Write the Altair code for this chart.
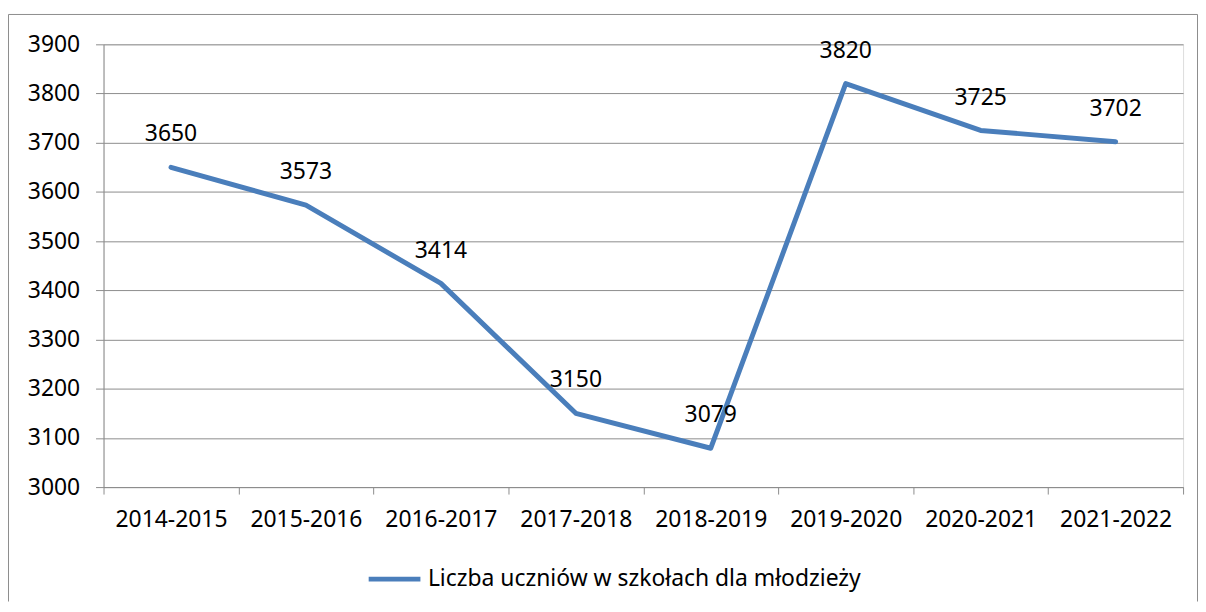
import altair as alt
import pandas as pd

years = ["2014-2015", "2015-2016", "2016-2017", "2017-2018",
         "2018-2019", "2019-2020", "2020-2021", "2021-2022"]
students = [3650, 3573, 3414, 3150, 3079, 3820, 3725, 3702]
series_name = "Liczba uczniów w szkołach dla młodzieży"
y_ticks = [3000, 3100, 3200, 3300, 3400, 3500, 3600, 3700, 3800, 3900]

df = pd.DataFrame({"rok": years, "liczba": students,
                   "seria": [series_name] * len(years)})

W, H = 1085, 445
GRAY = "#8c8c8c"
BLUE = "#4a7ebb"
FONT = "Noto Sans"
FS = 23

x_enc = alt.X(
    "rok:N", sort=years,
    scale=alt.Scale(type="band", paddingInner=0, paddingOuter=0),
    axis=alt.Axis(title=None, labelAngle=0, tickBand="extent", tickSize=7,
                  tickColor=GRAY, domainColor=GRAY, labelFont=FONT,
                  labelFontSize=FS, labelColor="black", labelPadding=15,
                  grid=False),
)
y_enc = alt.Y(
    "liczba:Q",
    scale=alt.Scale(domain=[3000, 3900], nice=False, zero=False),
    axis=alt.Axis(title=None, values=y_ticks, format="d", tickSize=8,
                  tickColor=GRAY, domainColor=GRAY, gridColor=GRAY,
                  gridOpacity=1, labelFont=FONT, labelFontSize=FS,
                  labelColor="black", labelPadding=16),
)

base = alt.Chart(df)

line = base.mark_line(strokeWidth=5, strokeCap="round", strokeJoin="round").encode(
    x=x_enc, y=y_enc,
    color=alt.Color(
        "seria:N",
        scale=alt.Scale(range=[BLUE]),
        legend=alt.Legend(title=None, orient="none", legendX=264, legendY=509,
                          symbolType="stroke", symbolSize=2704,
                          symbolStrokeWidth=5, labelFont=FONT,
                          labelFontSize=FS, labelColor="black",
                          labelOffset=5, labelLimit=0, padding=0),
    ),
)

labels = base.mark_text(dy=-33, font=FONT, fontSize=FS, color="black",
                        baseline="middle").encode(
    x=alt.X("rok:N", sort=years), y="liczba:Q", text="liczba:Q")

frame_df = alt.Chart(pd.DataFrame({"k": [0]}))
left = frame_df.mark_rule(color=GRAY, strokeWidth=1).encode(
    x=alt.value(-95.5), y=alt.value(-30), y2=alt.value(560))
top = frame_df.mark_rule(color=GRAY, strokeWidth=1).encode(
    x=alt.value(-95.5), x2=alt.value(1099.5), y=alt.value(-30))
right = frame_df.mark_rule(color=GRAY, strokeWidth=1).encode(
    x=alt.value(1099.5), y=alt.value(-30), y2=alt.value(560))

chart = alt.layer(left, top, right, line, labels).properties(
    width=W, height=H,
    padding={"left": 0, "top": 4, "right": 0, "bottom": 0},
).configure_view(stroke=None).configure(background="white")

chart.save("out.html", embed_options={"renderer": "svg", "actions": False})
